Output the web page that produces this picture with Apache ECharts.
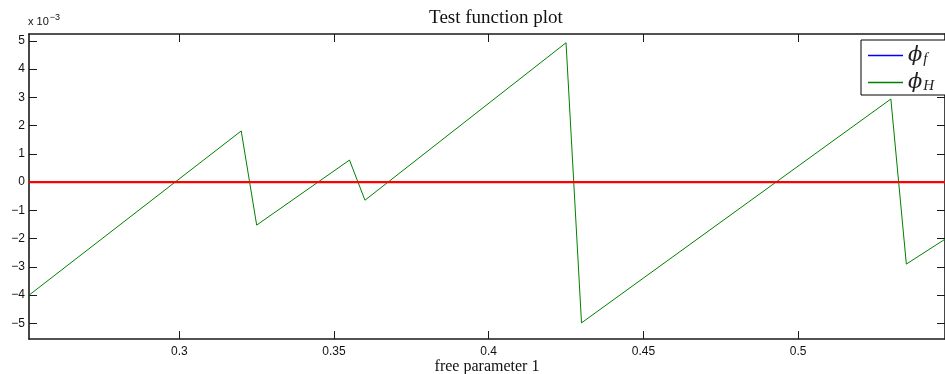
<!DOCTYPE html>
<html>
<head>
<meta charset="utf-8">
<script src="https://cdn.jsdelivr.net/npm/echarts@6/dist/echarts.min.js"></script>
<style>html,body{margin:0;padding:0;background:#fff}#c{width:945px;height:374px}</style>
</head>
<body>
<div id="c"></div>
<script>
// Data (y values in units of 1e-3)
const xPoints = [0.2514, 0.320, 0.325, 0.355, 0.360, 0.425, 0.430, 0.530, 0.535, 0.5475];
const phiH    = [-4.00, 1.81, -1.52, 0.78, -0.64, 4.93, -4.98, 2.94, -2.90, -2.02];
const phiF    = [0, 0, 0, 0, 0, 0, 0, 0, 0, 0];
const zeroLineX = [0.2514, 0.5475];
const zeroLineY = [0, 0];
const xTicks = [0.3, 0.35, 0.4, 0.45, 0.5];
const yTicks = [-5, -4, -3, -2, -1, 0, 1, 2, 3, 4, 5];
const xMin = 0.2514, xMax = 0.5475, yMin = -5.55, yMax = 5.24;

const chart = echarts.init(document.getElementById('c'), null, {renderer: 'canvas'});
const axisCol = '#1a1a1a';
const tickCommon = {show: true, inside: true, length: 8, lineStyle: {color: axisCol, width: 1}};
const lineCommon = {show: true, onZero: false, lineStyle: {color: axisCol, width: 1.6}};
const labelFont = {fontFamily: 'Liberation Sans, Arial, sans-serif', fontSize: 12, color: '#111'};

chart.setOption({
  animation: false,
  backgroundColor: '#fff',
  grid: {left: 29, right: 0, top: 34, bottom: 35, containLabel: false, outerBoundsMode: 'none'},
  title: {
    text: 'Test function plot', left: 491, top: 4, textAlign: 'center',
    textStyle: {fontFamily: 'Liberation Serif, Times New Roman, serif', fontSize: 19, fontWeight: 'normal', color: '#111'}
  },
  graphic: [{
    type: 'text', left: 28, top: 13,
    style: {
      text: '{a|x 10}{b|−3}',
      rich: {
        a: {fontFamily: 'Liberation Sans, Arial, sans-serif', fontSize: 11, fill: '#111', verticalAlign: 'bottom', lineHeight: 14},
        b: {fontFamily: 'Liberation Sans, Arial, sans-serif', fontSize: 9, fill: '#111', verticalAlign: 'top', padding: [0, 0, 6, 1], lineHeight: 8}
      }
    }
  }],
  legend: {
    orient: 'vertical', left: 861, top: 40,
    data: [{name: 'phi_f', icon: 'rect'}, {name: 'phi_H', icon: 'rect'}],
    backgroundColor: '#fff', borderColor: '#000', borderWidth: 1,
    padding: [4, 40, 1, 7], itemGap: 4, itemWidth: 35, itemHeight: 1.6,
    formatter: function (n) { return n === 'phi_f' ? '{p|ϕ}{s|f}' : '{p|ϕ}{s|H}'; },
    textStyle: {
      rich: {
        p: {fontFamily: 'DejaVu Serif, Liberation Serif, serif', fontStyle: 'italic', fontSize: 21, color: '#222', lineHeight: 20},
        s: {fontFamily: 'Liberation Serif, serif', fontStyle: 'italic', fontSize: 15, color: '#222', padding: [8, 0, 0, 1], lineHeight: 20}
      }
    }
  },
  xAxis: [{
    type: 'value', min: xMin, max: xMax, position: 'bottom',
    axisLine: lineCommon,
    axisTick: Object.assign({customValues: xTicks}, tickCommon),
    axisLabel: Object.assign({customValues: xTicks, margin: 7}, labelFont),
    splitLine: {show: false},
    name: 'free parameter 1', nameLocation: 'middle', nameGap: 28, nameMoveOverlap: false,
    nameTextStyle: {fontFamily: 'Liberation Serif, Times New Roman, serif', fontSize: 16, color: '#111', verticalAlign: 'middle'}
  }, {
    type: 'value', min: xMin, max: xMax, position: 'top',
    axisLine: lineCommon,
    axisTick: Object.assign({customValues: xTicks}, tickCommon),
    axisLabel: {show: false}, splitLine: {show: false}
  }],
  yAxis: [{
    type: 'value', min: yMin, max: yMax, position: 'left',
    axisLine: lineCommon,
    axisTick: Object.assign({customValues: yTicks}, tickCommon),
    axisLabel: Object.assign({customValues: yTicks, margin: 4,
      formatter: function (v) { return String(v).replace('-', '−'); }}, labelFont),
    splitLine: {show: false}
  }, {
    type: 'value', min: yMin, max: yMax, position: 'right',
    axisLine: lineCommon,
    axisTick: Object.assign({customValues: yTicks}, tickCommon),
    axisLabel: {show: false}, splitLine: {show: false}
  }],
  series: [{
    name: 'phi_f', type: 'line', symbol: 'none',
    data: xPoints.map((x, i) => [x, phiF[i]]),
    lineStyle: {color: '#0000ff', width: 1}, itemStyle: {color: '#0000ff'}
  }, {
    name: 'phi_H', type: 'line', symbol: 'none',
    data: xPoints.map((x, i) => [x, phiH[i]]),
    lineStyle: {color: '#008000', width: 1}, itemStyle: {color: '#008000'}
  }, {
    name: 'zero', type: 'line', symbol: 'none',
    data: zeroLineX.map((x, i) => [x, zeroLineY[i]]),
    lineStyle: {color: '#ff0000', width: 2.2}, itemStyle: {color: '#ff0000'}
  }]
});
</script>
</body>
</html>
